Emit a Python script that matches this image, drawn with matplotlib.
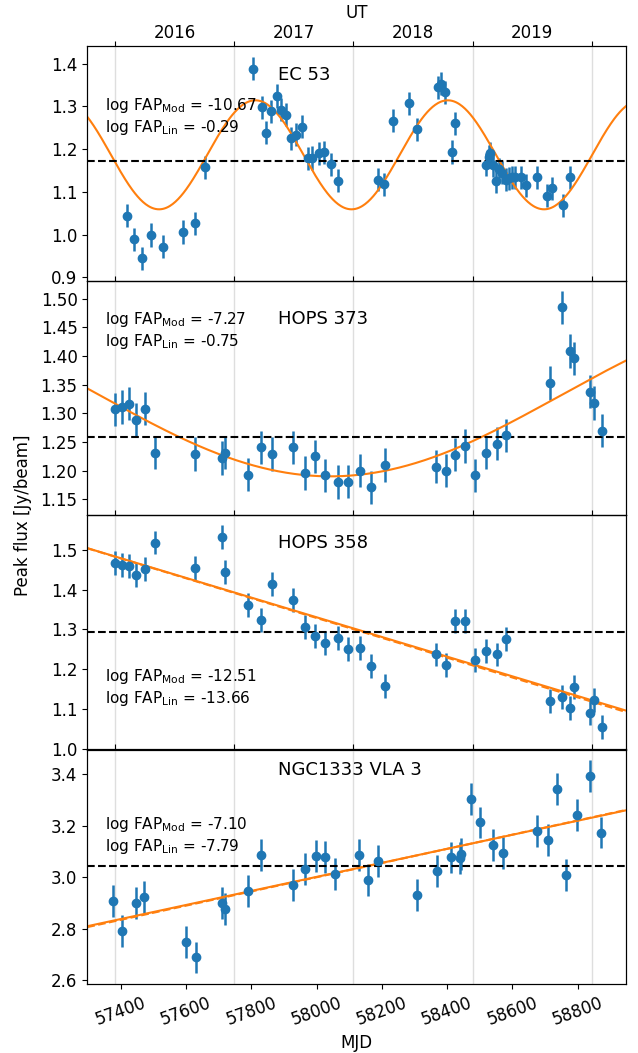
import numpy as np
import matplotlib.pyplot as plt
from matplotlib.ticker import MultipleLocator, FixedLocator, NullFormatter

# ---- data ----
names = ['EC 53', 'HOPS 373', 'HOPS 358', 'NGC1333 VLA 3']
fap_mod = ['-10.67', '-7.27', '-12.51', '-7.10']
fap_lin = ['-0.29', '-0.75', '-13.66', '-7.79']

ec53_mjd = [57419, 57441, 57464, 57492, 57528, 57590, 57626, 57659, 57806, 57833,
            57846, 57860, 57878, 57892, 57906, 57920, 57938, 57955, 57974, 57987,
            58006, 58022, 58044, 58066, 58188, 58207, 58234, 58284, 58307, 58372,
            58381, 58393, 58415, 58423, 58519, 58528, 58532, 58540, 58551, 58560,
            58569, 58579, 58589, 58598, 58608, 58627, 58643, 58675, 58707, 58721,
            58755, 58776]
ec53_flux = [1.044, 0.989, 0.944, 0.999, 0.972, 1.006, 1.026, 1.157, 1.388, 1.298,
             1.238, 1.288, 1.324, 1.292, 1.280, 1.225, 1.234, 1.252, 1.178, 1.179,
             1.190, 1.192, 1.164, 1.126, 1.128, 1.118, 1.266, 1.307, 1.246, 1.345,
             1.353, 1.333, 1.193, 1.260, 1.163, 1.182, 1.190, 1.162, 1.125, 1.153,
             1.145, 1.128, 1.132, 1.134, 1.134, 1.134, 1.115, 1.134, 1.091, 1.108,
             1.068, 1.134]
ec53_err = 0.027

orion_mjd = [57381, 57403, 57424, 57446, 57475, 57504, 57626, 57711, 57718, 57790,
             57830, 57863, 57928, 57964, 57996, 58026, 58064, 58095, 58133, 58166,
             58208, 58367, 58395, 58423, 58454, 58486, 58518, 58552, 58581, 58716,
             58753, 58776, 58789, 58837, 58851, 58874]
hops373_flux = [1.307, 1.311, 1.317, 1.289, 1.308, 1.231, 1.229, 1.222, 1.231, 1.193,
                1.241, 1.229, 1.241, 1.196, 1.225, 1.192, 1.180, 1.181, 1.200, 1.171,
                1.210, 1.207, 1.200, 1.228, 1.243, 1.192, 1.231, 1.247, 1.262, 1.353,
                1.485, 1.409, 1.396, 1.338, 1.318, 1.270]
hops373_err = 0.029
hops358_flux = [1.466, 1.461, 1.458, 1.437, 1.452, 1.518, 1.454, 1.531, 1.443, 1.361,
                1.324, 1.413, 1.374, 1.305, 1.284, 1.266, 1.278, 1.250, 1.254, 1.207,
                1.159, 1.237, 1.211, 1.322, 1.322, 1.223, 1.245, 1.237, 1.275, 1.120,
                1.130, 1.103, 1.155, 1.090, 1.122, 1.054]
hops358_err = 0.03

vla3_mjd = [57377, 57402, 57446, 57472, 57601, 57630, 57711, 57718, 57790, 57830,
            57928, 57964, 57997, 58025, 58056, 58130, 58157, 58189, 58307, 58369,
            58413, 58440, 58443, 58473, 58501, 58540, 58570, 58674, 58708, 58736,
            58765, 58799, 58837, 58873]
vla3_flux = [2.908, 2.791, 2.901, 2.923, 2.747, 2.688, 2.901, 2.878, 2.947, 3.088,
             2.969, 3.031, 3.081, 3.078, 3.014, 3.087, 2.988, 3.062, 2.932, 3.023,
             3.077, 3.075, 3.090, 3.306, 3.213, 3.126, 3.095, 3.181, 3.145, 3.344,
             3.010, 3.243, 3.394, 3.174]
vla3_err = 0.062

mean_flux = [1.173, 1.258, 1.293, 3.045]

# model fits: sinusoid (mean, amplitude, period, MJD of minimum) and lines (value at mid, slope)
ec53_sin = (1.1865, 0.1275, 590.0, 57517.0)
hops373_sin = (1.331, 0.141, 2820.0, 58042.0)
hops358_mod = (1.300, -2.47e-4)
hops358_lin = (1.298, -2.49e-4)
vla3_mod = (3.035, 2.73e-4)
vla3_lin = (3.034, 2.76e-4)
mid_mjd = 58123

xlim = (57297, 58948)
ylims = [(0.892, 1.44), (1.122, 1.531), (0.998, 1.586), (2.586, 3.497)]
ysteps = [0.1, 0.05, 0.1, 0.2]


def sinus(t, p):
    m, a, per, t0 = p
    return m - a * np.cos(2 * np.pi * (t - t0) / per)


def line(t, p):
    return p[0] + p[1] * (t - mid_mjd)


def mjd2yr(m):
    return 2016 + (np.asarray(m) - 57382) / 365.25


plt.rcParams['font.size'] = 12

fig = plt.figure(figsize=(6.38, 10.53), dpi=100)
left, width = 0.1368, 0.8443
bottoms = [0.73343, 0.51064, 0.28803, 0.06581]
height = 0.22246

series = [
    (ec53_mjd, ec53_flux, ec53_err),
    (orion_mjd, hops373_flux, hops373_err),
    (orion_mjd, hops358_flux, hops358_err),
    (vla3_mjd, vla3_flux, vla3_err),
]
name_y = [0.879, 0.836, 0.881, 0.914]
fap_y = [0.70, 0.788, 0.266, 0.631]

tt = np.linspace(xlim[0], xlim[1], 600)
years = np.arange(2015, 2022)

for i, (x, y, e) in enumerate(series):
    ax = fig.add_axes([left, bottoms[i], width, height])
    ax2 = ax.twiny()
    ax.set_zorder(ax2.get_zorder() + 1)
    ax.patch.set_visible(False)

    ax.errorbar(x, y, yerr=e, fmt='o', color='#1f77b4', ms=6, elinewidth=1.8)
    if i == 0:
        ax.plot(tt, sinus(tt, ec53_sin), color='#ff7f0e', lw=1.5)
    elif i == 1:
        ax.plot(tt, sinus(tt, hops373_sin), color='#ff7f0e', lw=1.5)
    elif i == 2:
        ax.plot(tt, line(tt, hops358_lin), '--', color='#ff7f0e', lw=1.5)
        ax.plot(tt, line(tt, hops358_mod), color='#ff7f0e', lw=1.5)
    else:
        ax.plot(tt, line(tt, vla3_lin), '--', color='#ff7f0e', lw=1.5)
        ax.plot(tt, line(tt, vla3_mod), color='#ff7f0e', lw=1.5)
    ax.axhline(mean_flux[i], color='k', ls='--', lw=1.5)

    ax.set_xlim(xlim)
    ax.set_ylim(ylims[i])
    ax.yaxis.set_major_locator(MultipleLocator(ysteps[i]))
    ax.xaxis.set_major_locator(MultipleLocator(200))
    if i < 3:
        ax.tick_params(axis='x', bottom=False, labelbottom=False)
    else:
        for lab in ax.get_xticklabels():
            lab.set_rotation(20)
        ax.set_xlabel('MJD')

    ax.text(0.354, name_y[i], names[i], transform=ax.transAxes, fontsize=13,
            va='center', ha='left')
    ax.text(0.032, fap_y[i],
            r'log FAP$_{\rm Mod}$ = ' + fap_mod[i] + '\n' + r'log FAP$_{\rm Lin}$ = ' + fap_lin[i],
            transform=ax.transAxes, fontsize=11, va='center', ha='left')

    # UT axis
    ax2.set_xlim(mjd2yr(xlim[0]), mjd2yr(xlim[1]))
    ax2.xaxis.set_major_locator(FixedLocator(years))
    ax2.xaxis.set_major_formatter(NullFormatter())
    ax2.grid(True, axis='x', color='0.87', lw=1.0)
    if i == 0:
        ax2.xaxis.set_minor_locator(FixedLocator(years + 0.5))
        ax2.set_xticklabels([str(yv) for yv in years], minor=True)
        ax2.tick_params(axis='x', which='minor', length=0)
        ax2.set_xlabel('UT')
    else:
        ax2.xaxis.set_minor_locator(FixedLocator([]))

fig.text(0.0368, 0.5107, 'Peak flux [Jy/beam]', rotation=90, va='center', ha='center',
         fontsize=12)

fig.savefig('out.png', dpi=100)
